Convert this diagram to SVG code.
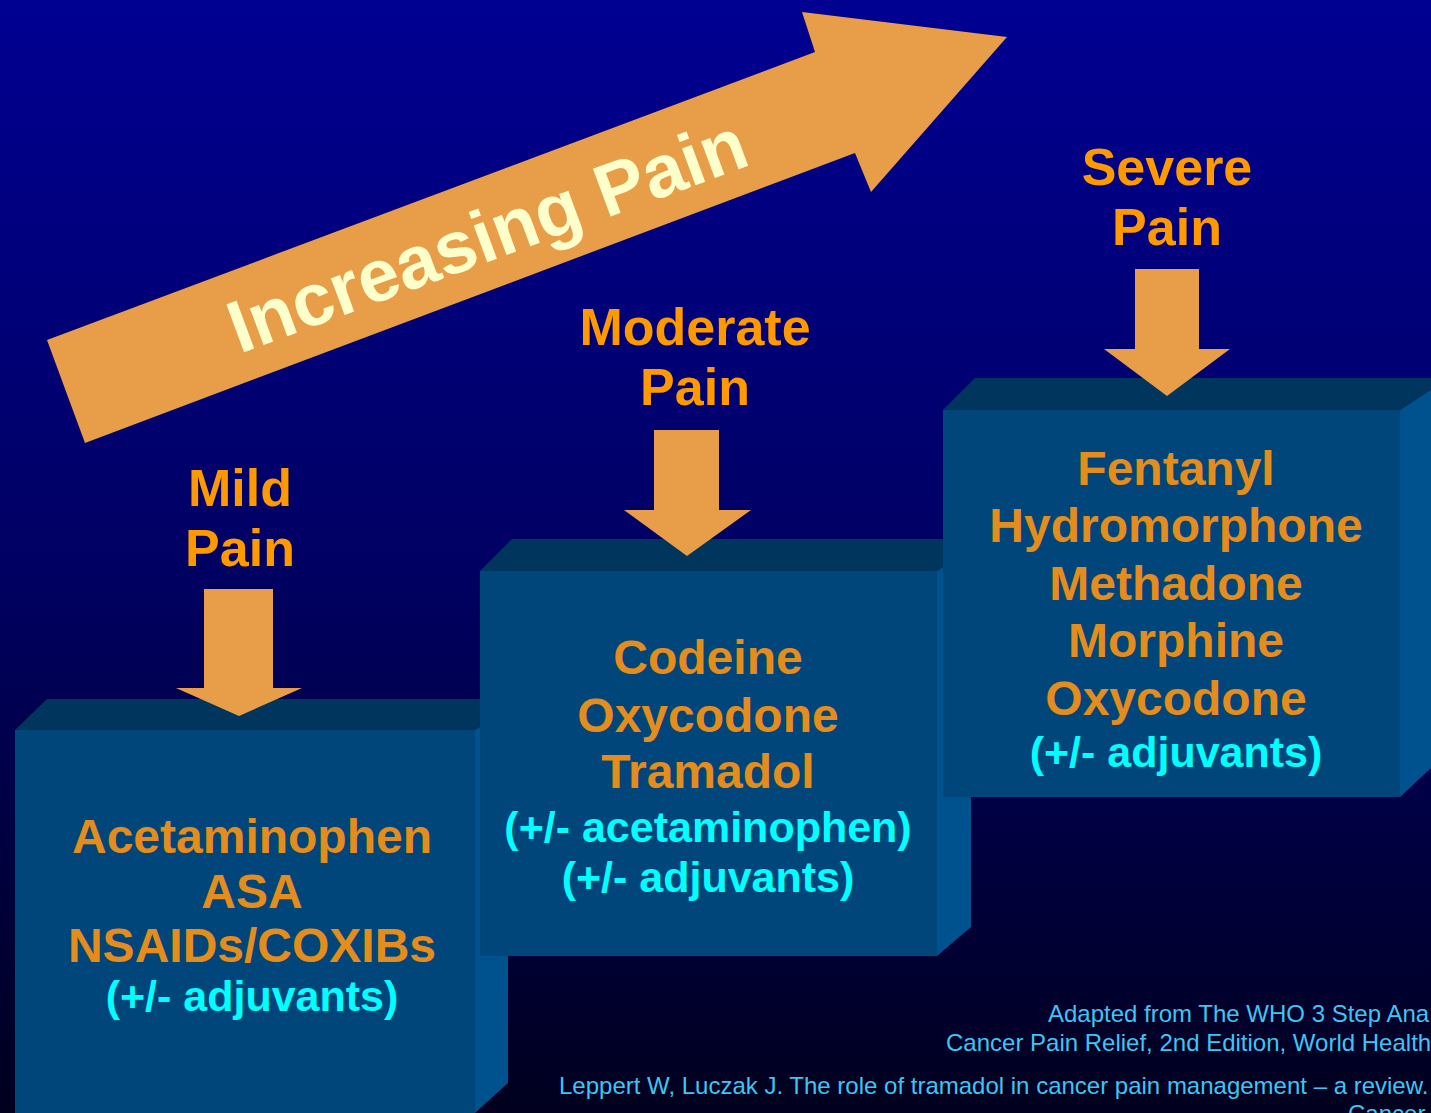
<svg xmlns="http://www.w3.org/2000/svg" width="1431" height="1113" viewBox="0 0 1431 1113">
<defs>
<linearGradient id="bg" x1="0" y1="0" x2="0" y2="1">
<stop offset="0" stop-color="#000092"/>
<stop offset="0.5" stop-color="#000064"/>
<stop offset="1" stop-color="#00001E"/>
</linearGradient>
<style>
.front{fill:#00467A}
.top{fill:#00365E}
.side{fill:#00528F}
.arrow{fill:#E89E48}
.lbl{font-family:"Liberation Sans",Arial,sans-serif;font-weight:bold;font-size:52px;fill:#FF9900;text-anchor:middle}
.drug{font-family:"Liberation Sans",Arial,sans-serif;font-weight:bold;font-size:48px;fill:#E48C1C;text-anchor:middle}
.adj{font-family:"Liberation Sans",Arial,sans-serif;font-weight:bold;font-size:43px;fill:#00FFFF;text-anchor:middle}
.ref{font-family:"Liberation Sans",Arial,sans-serif;font-size:24px;fill:#3CC6F4}
</style>
</defs>
<rect x="0" y="0" width="1431" height="1113" fill="url(#bg)"/>

<g id="increasing-pain">
<polygon class="arrow" points="47,340 815,52 802,12 1007,37 871,192 855,153 85,443"/>
<text x="496" y="259" transform="rotate(-20.3 496 259)" font-family="Liberation Sans, Arial, sans-serif" font-weight="bold" font-size="74" fill="#FFFFCC" text-anchor="middle">Increasing Pain</text>
</g>

<g id="step1">
<polygon class="top" points="15,730 47,699 524,699 475,730"/>
<polygon class="side" points="475,730 508,709 508,1083 475,1113"/>
<rect class="front" x="15" y="730" width="460" height="383"/>
<text class="drug" x="252" y="853">Acetaminophen</text>
<text class="drug" x="252" y="908">ASA</text>
<text class="drug" x="252" y="962">NSAIDs/COXIBs</text>
<text class="adj" x="252" y="1011">(+/- adjuvants)</text>
</g>

<g id="step2">
<polygon class="top" points="480,571 512,539 987,539 937,571"/>
<polygon class="side" points="937,571 971,549 971,927 937,956"/>
<rect class="front" x="480" y="571" width="457" height="385"/>
<text class="drug" x="708" y="674">Codeine</text>
<text class="drug" x="708" y="732">Oxycodone</text>
<text class="drug" x="708" y="788">Tramadol</text>
<text class="adj" x="708" y="842">(+/- acetaminophen)</text>
<text class="adj" x="708" y="892">(+/- adjuvants)</text>
</g>

<g id="step3">
<polygon class="top" points="943,410 975,378 1450,378 1400,410"/>
<polygon class="side" points="1400,410 1431,390 1431,768 1400,797"/>
<rect class="front" x="943" y="410" width="457" height="387"/>
<text class="drug" x="1176" y="485">Fentanyl</text>
<text class="drug" x="1176" y="542">Hydromorphone</text>
<text class="drug" x="1176" y="600">Methadone</text>
<text class="drug" x="1176" y="657">Morphine</text>
<text class="drug" x="1176" y="715">Oxycodone</text>
<text class="adj" x="1176" y="767">(+/- adjuvants)</text>
</g>

<g id="mild-label">
<text class="lbl" x="240" y="506">Mild</text>
<text class="lbl" x="240" y="566">Pain</text>
</g>
<g id="moderate-label">
<text class="lbl" x="695" y="345">Moderate</text>
<text class="lbl" x="695" y="405">Pain</text>
</g>
<g id="severe-label">
<text class="lbl" x="1167" y="185">Severe</text>
<text class="lbl" x="1167" y="245">Pain</text>
</g>

<g id="connectors">
<polygon class="arrow" points="204,589 273,589 273,688 302,688 239,716 176,688 204,688"/>
<polygon class="arrow" points="654,430 719,430 719,510 751,510 687,556 624,510 654,510"/>
<polygon class="arrow" points="1135,269 1199,269 1199,349 1230,349 1167,396 1104,349 1135,349"/>
</g>

<g id="references">
<text class="ref" x="1048" y="1022">Adapted from The WHO 3 Step Ana</text>
<text class="ref" x="946" y="1051">Cancer Pain Relief, 2nd Edition, World Health</text>
<text class="ref" x="559" y="1094">Leppert W, Luczak J. The role of tramadol in cancer pain management – a review.</text>
<text class="ref" x="1348" y="1122">Cancer</text>
</g>
</svg>
